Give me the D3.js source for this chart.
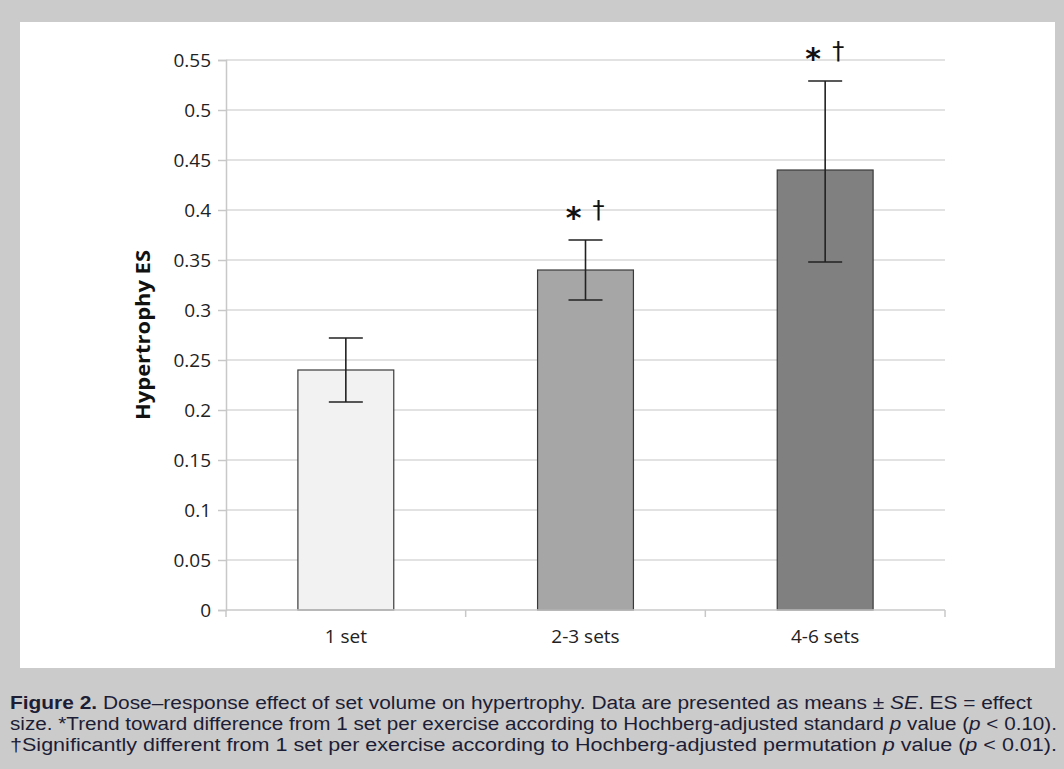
<!doctype html>
<html lang="en">
<head>
    <title></title>
    <script src="https://d3js.org/d3.v7.min.js"></script>
    <style type="text/css">
    body { margin:0; background:#cbcbcb; }
    .tick text { font-family:"Open Sans", "Liberation Sans", sans-serif; }
    </style>
</head>

<body>
</body>

<script type="text/javascript">

    var categories = ["1 set", "2-3 sets", "4-6 sets"];
    var means      = [0.24, 0.34, 0.44];
    var errLow     = [0.208, 0.31, 0.348];
    var errHigh    = [0.272, 0.37, 0.529];
    var stars      = ["", "*", "*"];
    var daggers    = ["", "\u2020", "\u2020"];
    var fills      = ["#f2f2f2", "#a6a6a6", "#808080"];
    var yTicks     = [0, 0.05, 0.1, 0.15, 0.2, 0.25, 0.3, 0.35, 0.4, 0.45, 0.5, 0.55];

    var W = 1064, H = 769;

    var svg = d3.select("body")
    .append("svg")
    .attr("width", W)
    .attr("height", H)
    .style("display", "block");

    svg.append("rect")
    .attr("width", W).attr("height", H)
    .attr("fill", "#cbcbcb");

    // white chart panel
    svg.append("rect")
    .attr("x", 20).attr("y", 22)
    .attr("width", 1035).attr("height", 646)
    .attr("fill", "#fff");

    var xScale = d3.scaleBand()
                .domain(categories)
                .range([226, 945])
                .paddingInner(0.6)
                .paddingOuter(0.3);

    var yScale = d3.scaleLinear()
                  .domain([0, 0.55])
                  .range([610, 60]);

    // gridlines
    svg.append("g")
    .selectAll("line")
    .data(yTicks.slice(1))
    .enter()
    .append("line")
    .attr("x1", 226).attr("x2", 945)
    .attr("y1", d=>yScale(d)).attr("y2", d=>yScale(d))
    .attr("stroke", "#d9d9d9")
    .attr("stroke-width", 1.5);

    // y axis
    var yAxis = svg.append("g")
    .attr("transform", "translate(226,0)")
    .call(d3.axisLeft(yScale).tickValues(yTicks).tickSize(8).tickPadding(7)
          .tickFormat(d=>d3.format("")(+d.toFixed(2))));
    yAxis.select(".domain").attr("stroke", "#c8c8c8").attr("stroke-width", 1.5);
    yAxis.selectAll(".tick line").attr("stroke", "#c8c8c8").attr("stroke-width", 1.5);
    yAxis.selectAll(".tick text")
    .attr("font-size", 19).attr("fill", "#222");

    // bars
    svg.selectAll(".bar")
    .data(categories)
    .enter()
    .append("rect")
    .attr("class", "bar")
    .attr("x", d=>xScale(d))
    .attr("y", (d,i)=>yScale(means[i]))
    .attr("width", xScale.bandwidth())
    .attr("height", (d,i)=>yScale(0) - yScale(means[i]))
    .attr("fill", (d,i)=>fills[i])
    .attr("stroke", "#3a3a3a")
    .attr("stroke-width", 1.2);

    // x axis
    var step = xScale.step();
    var bounds = [226].concat(categories.map(c=>xScale(c) + xScale.bandwidth()/2 + step/2));
    var xg = svg.append("g");
    xg.append("line")
    .attr("x1", 226).attr("x2", 945)
    .attr("y1", yScale(0)).attr("y2", yScale(0))
    .attr("stroke", "#c8c8c8").attr("stroke-width", 1.5);
    xg.selectAll(".xt")
    .data(bounds)
    .enter()
    .append("line")
    .attr("x1", d=>d).attr("x2", d=>d)
    .attr("y1", yScale(0)).attr("y2", yScale(0) + 7)
    .attr("stroke", "#c8c8c8").attr("stroke-width", 1.5);
    xg.selectAll(".xl")
    .data(categories)
    .enter()
    .append("text")
    .attr("x", d=>xScale(d) + xScale.bandwidth()/2)
    .attr("y", 643)
    .attr("text-anchor", "middle")
    .attr("font-family", "'Open Sans', sans-serif")
    .attr("font-size", 19)
    .attr("fill", "#222")
    .text(d=>d);

    // error bars
    var eb = svg.append("g").attr("stroke", "#222").attr("stroke-width", 1.6);
    categories.forEach(function(c, i) {
      var cx = xScale(c) + xScale.bandwidth()/2;
      eb.append("line").attr("x1", cx).attr("x2", cx)
        .attr("y1", yScale(errLow[i])).attr("y2", yScale(errHigh[i]));
      [errLow[i], errHigh[i]].forEach(function(v) {
        eb.append("line").attr("x1", cx - 17).attr("x2", cx + 17)
          .attr("y1", yScale(v)).attr("y2", yScale(v));
      });
    });

    // significance marks
    svg.selectAll(".star")
    .data(categories)
    .enter()
    .append("text")
    .attr("x", d=>xScale(d) + xScale.bandwidth()/2 - 12)
    .attr("y", (d,i)=>yScale(errHigh[i]) - 12)
    .attr("text-anchor", "middle")
    .attr("font-family", "'DejaVu Sans', sans-serif")
    .attr("font-size", 30)
    .attr("font-weight", "bold")
    .attr("fill", "#111")
    .text((d,i)=>stars[i]);

    svg.selectAll(".dagger")
    .data(categories)
    .enter()
    .append("text")
    .attr("x", d=>xScale(d) + xScale.bandwidth()/2 + 13)
    .attr("y", (d,i)=>yScale(errHigh[i]) - 22)
    .attr("text-anchor", "middle")
    .attr("font-family", "'DejaVu Sans', sans-serif")
    .attr("font-size", 24)
    .attr("fill", "#111")
    .text((d,i)=>daggers[i]);

    // y title
    svg.append("text")
    .attr("transform", "translate(150," + yScale(0.275) + ") rotate(-90)")
    .attr("text-anchor", "middle")
    .attr("font-family", "'Open Sans', sans-serif")
    .attr("font-size", 20)
    .attr("font-weight", "bold")
    .attr("textLength", 170)
    .attr("lengthAdjust", "spacingAndGlyphs")
    .attr("fill", "#111")
    .text("Hypertrophy ES");

    // caption
    var cap = svg.append("g")
    .attr("font-family", "'Liberation Sans', Arial, sans-serif")
    .attr("font-size", 18)
    .attr("fill", "#1d1d35");

    var l1 = cap.append("text").attr("x", 10).attr("y", 709)
      .attr("textLength", 1022).attr("lengthAdjust", "spacingAndGlyphs");
    l1.append("tspan").attr("font-weight", "bold").text("Figure 2.");
    l1.append("tspan").text(" Dose\u2013response effect of set volume on hypertrophy. Data are presented as means \u00b1 ");
    l1.append("tspan").attr("font-style", "italic").text("SE");
    l1.append("tspan").text(". ES = effect");

    var l2 = cap.append("text").attr("x", 10).attr("y", 730)
      .attr("textLength", 1047).attr("lengthAdjust", "spacingAndGlyphs");
    l2.append("tspan").text("size. *Trend toward difference from 1 set per exercise according to Hochberg-adjusted standard ");
    l2.append("tspan").attr("font-style", "italic").text("p");
    l2.append("tspan").text(" value (");
    l2.append("tspan").attr("font-style", "italic").text("p");
    l2.append("tspan").text(" < 0.10).");

    var l3 = cap.append("text").attr("x", 10).attr("y", 751)
      .attr("textLength", 1047).attr("lengthAdjust", "spacingAndGlyphs");
    l3.append("tspan").text("\u2020Significantly different from 1 set per exercise according to Hochberg-adjusted permutation ");
    l3.append("tspan").attr("font-style", "italic").text("p");
    l3.append("tspan").text(" value (");
    l3.append("tspan").attr("font-style", "italic").text("p");
    l3.append("tspan").text(" < 0.01).");

</script>
</html>
